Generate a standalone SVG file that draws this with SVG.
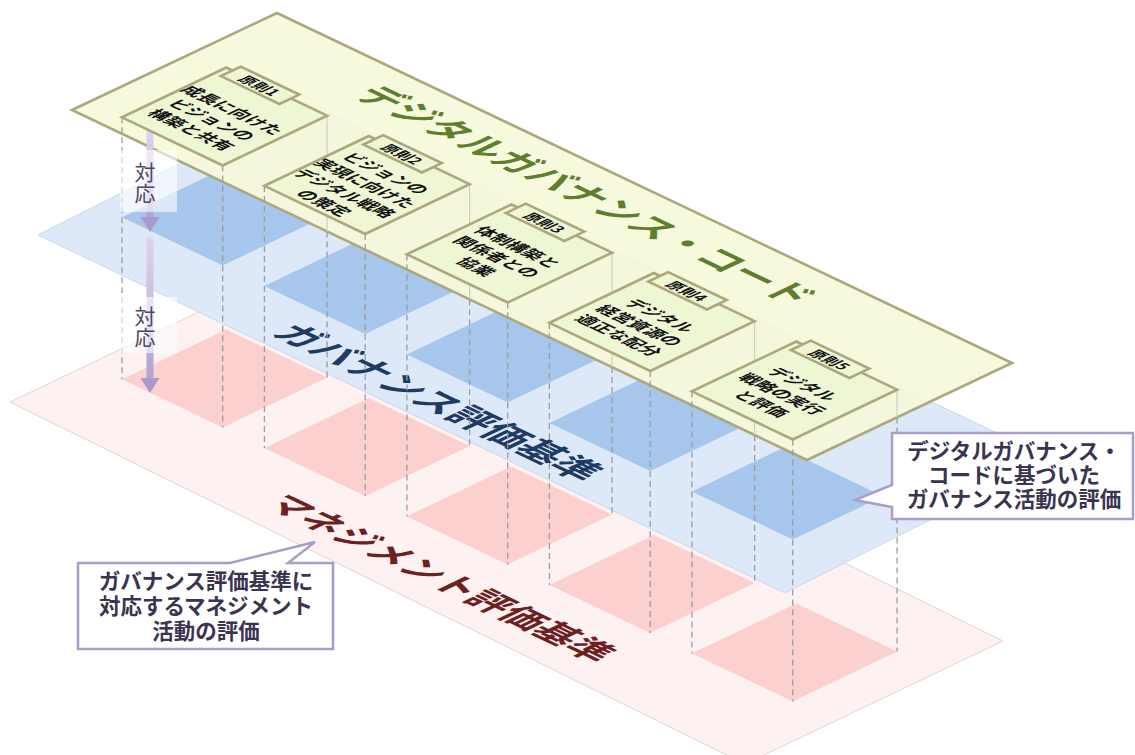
<svg xmlns="http://www.w3.org/2000/svg" width="1135" height="755" viewBox="0 0 1135 755">
<defs>
<style>
.cjk{font-family:"Noto Sans CJK JP","Noto Sans CJK SC",sans-serif}
.plane-top{fill:#f6f8d8;fill-opacity:0.9;stroke:#aca77c;stroke-width:2.6}
.plane-gov{fill:#dde9f8;stroke:#c9d8ec;stroke-width:1}
.plane-mgt{fill:#fdf1f1;stroke:#e6d2d2;stroke-width:1}
.sq-gov{fill:#a7c6ec}
.sq-mgt{fill:#fdd0d0}
.guide{stroke:#9c9c9c;stroke-width:1.3;stroke-dasharray:6 4;fill:none}
.guide-faint{stroke:#ccd1bd;stroke-width:1.2;fill:none}
.box{fill:#eff6d3;stroke:#aca77c;stroke-width:2.6;vector-effect:non-scaling-stroke}
.ptext{font-size:17.5px;font-weight:700;fill:#111111;text-anchor:middle;dominant-baseline:central}
.ttext{font-size:15px;font-weight:700;fill:#111111;text-anchor:middle;dominant-baseline:central}
.callout{fill:#ffffff;stroke:#a99cca;stroke-width:2.5}
.ctext{font-size:21.5px;font-weight:700;fill:#3b3450;text-anchor:middle}
.taiou{font-size:21px;fill:#4f4566;writing-mode:vertical-rl;text-anchor:start}
.lbl-bg{fill:#ffffff;fill-opacity:0.6}
.big{text-anchor:middle;dominant-baseline:central}
</style>
<linearGradient id="shaft" x1="0" y1="0" x2="0" y2="1">
<stop offset="0" stop-color="#dcd5ec"/>
<stop offset="1" stop-color="#b1a2d2"/>
</linearGradient>
<clipPath id="belowTop"><polygon points="0,75.7 1135,616 1135,755 0,755"/></clipPath>
</defs>

<g id="management-layer">
<polygon class="plane-mgt" points="10,402 268,279 1003,641 745,764"/>
<polygon class="sq-mgt" points="122,379.3 226.3,329.5 327.1,377.6 222.7,427.5"/>
<polygon class="sq-mgt" points="264.4,447.9 368.8,398 469.6,446.1 365.2,496"/>
<polygon class="sq-mgt" points="406.9,516.4 511.3,466.5 612.1,514.6 507.7,564.5"/>
<polygon class="sq-mgt" points="549.4,584.9 653.8,535 754.6,583.1 650.2,633"/>
<polygon class="sq-mgt" points="691.9,653.4 796.3,603.5 897.1,651.6 792.7,701.5"/>
<text class="cjk big" transform="matrix(0.9,0.43,-0.9,0.43,443,577)" font-size="37" font-weight="700" fill="#6e1f1f">マネジメント評価基準</text>
</g>

<g id="governance-layer">
<polygon class="plane-gov" points="38,235 304,101 1051,459 785,593"/>
<g clip-path="url(#belowTop)">
<polygon class="sq-gov" points="122,217.3 226.3,167.5 327.1,215.6 222.7,265.5"/>
<polygon class="sq-gov" points="264.4,285.9 368.8,236 469.6,284.1 365.2,334"/>
<polygon class="sq-gov" points="406.9,354.4 511.3,304.5 612.1,352.6 507.7,402.5"/>
<polygon class="sq-gov" points="549.4,422.9 653.8,373 754.6,421.1 650.2,471"/>
<polygon class="sq-gov" points="691.9,491.4 796.3,441.5 897.1,489.6 792.7,539.5"/>
</g>
<text class="cjk big" transform="matrix(0.9,0.43,-0.9,0.43,441,401)" font-size="38.5" font-weight="700" fill="#1f3a63">ガバナンス評価基準</text>
</g>

<g id="code-layer">
<polygon class="plane-top" points="72,110 277,13 1012,363 807,460"/>
<text class="cjk big" transform="matrix(0.9,0.43,-0.9,0.43,588,194)" font-size="38" font-weight="700" fill="#5f7f2e">デジタルガバナンス・コード</text>
</g>

<g id="guides">
<path class="guide" d="M122,117.3V379.3M222.7,165.5V427.5M327.1,231.4V377.6"/>
<path class="guide-faint" d="M327.1,115.6V231.4"/>
<path class="guide" d="M264.4,185.9V447.9M365.2,234V496M469.6,299.3V446.1"/>
<path class="guide-faint" d="M469.6,184.1V299.3"/>
<path class="guide" d="M406.9,254.4V516.4M507.7,302.5V564.5M612.1,367.1V514.6"/>
<path class="guide-faint" d="M612.1,252.6V367.1"/>
<path class="guide" d="M549.4,322.9V584.9M650.2,371V633M754.6,434.9V583.1"/>
<path class="guide-faint" d="M754.6,321.1V434.9"/>
<path class="guide" d="M691.9,391.4V653.4M792.7,439.5V701.5M897.1,417.4V651.6"/>
<path class="guide-faint" d="M897.1,389.6V417.4"/>
</g>

<g id="connectors">
<rect x="146.5" y="131" width="7" height="87" fill="url(#shaft)"/>
<polygon points="140.5,217 159.5,217 150,232" fill="#ab98cd"/>
<rect x="146.5" y="237" width="7" height="142" fill="url(#shaft)"/>
<polygon points="140.5,378 159.5,378 150,393" fill="#ab98cd"/>
</g>

<g id="label-taiou-1">
<rect class="lbl-bg" x="120" y="150" width="57" height="62"/>
<text class="cjk taiou" x="145" y="162">対応</text>
</g>
<g id="label-taiou-2">
<rect class="lbl-bg" x="120" y="297" width="57" height="56"/>
<text class="cjk taiou" x="145" y="306">対応</text>
</g>

<g id="principle-1" class="cjk" transform="matrix(0.9,0.43,-0.9,0.43,224.5,116.5)">
<rect class="box" x="-56" y="-58" width="112" height="116"/>
<rect class="box" x="-49" y="-67" width="65" height="22"/>
<text class="ttext" x="-16.5" y="-56">原則1</text>
<text class="ptext" x="-3" y="-13">成長に向けた</text>
<text class="ptext" x="-3" y="10">ビジョンの</text>
<text class="ptext" x="-3" y="33">構築と共有</text>
</g>
<g id="principle-2" class="cjk" transform="matrix(0.9,0.43,-0.9,0.43,367,185)">
<rect class="box" x="-56" y="-58" width="112" height="116"/>
<rect class="box" x="-49" y="-67" width="65" height="22"/>
<text class="ttext" x="-16.5" y="-56">原則2</text>
<text class="ptext" x="-3" y="-25">ビジョンの</text>
<text class="ptext" x="-3" y="-2">実現に向けた</text>
<text class="ptext" x="-3" y="21">デジタル戦略</text>
<text class="ptext" x="-3" y="44">の策定</text>
</g>
<g id="principle-3" class="cjk" transform="matrix(0.9,0.43,-0.9,0.43,509.5,253.5)">
<rect class="box" x="-56" y="-58" width="112" height="116"/>
<rect class="box" x="-49" y="-67" width="65" height="22"/>
<text class="ttext" x="-16.5" y="-56">原則3</text>
<text class="ptext" x="-3" y="-13">体制構築と</text>
<text class="ptext" x="-3" y="10">関係者との</text>
<text class="ptext" x="-3" y="33">協業</text>
</g>
<g id="principle-4" class="cjk" transform="matrix(0.9,0.43,-0.9,0.43,652,322)">
<rect class="box" x="-56" y="-58" width="112" height="116"/>
<rect class="box" x="-49" y="-67" width="65" height="22"/>
<text class="ttext" x="-16.5" y="-56">原則4</text>
<text class="ptext" x="-3" y="-13">デジタル</text>
<text class="ptext" x="-3" y="10">経営資源の</text>
<text class="ptext" x="-3" y="33">適正な配分</text>
</g>
<g id="principle-5" class="cjk" transform="matrix(0.9,0.43,-0.9,0.43,794.5,390.5)">
<rect class="box" x="-56" y="-58" width="112" height="116"/>
<rect class="box" x="-49" y="-67" width="65" height="22"/>
<text class="ttext" x="-16.5" y="-56">原則5</text>
<text class="ptext" x="-3" y="-13">デジタル</text>
<text class="ptext" x="-3" y="10">戦略の実行</text>
<text class="ptext" x="-3" y="33">と評価</text>
</g>

<g id="callout-governance" class="cjk">
<path class="callout" d="M892,433H1133V519H892V507L855,500L892,485Z"/>
<text class="ctext" x="1014" y="459"><tspan x="1014" y="459">デジタルガバナンス・</tspan><tspan x="1014" y="483">コードに基づいた</tspan><tspan x="1014" y="507">ガバナンス活動の評価</tspan></text>
</g>

<g id="callout-management" class="cjk">
<path class="callout" d="M78,563H230L315,542L288,563H333V649H78Z"/>
<text class="ctext" x="206" y="589"><tspan x="206" y="589">ガバナンス評価基準に</tspan><tspan x="206" y="614">対応するマネジメント</tspan><tspan x="206" y="639">活動の評価</tspan></text>
</g>
</svg>
